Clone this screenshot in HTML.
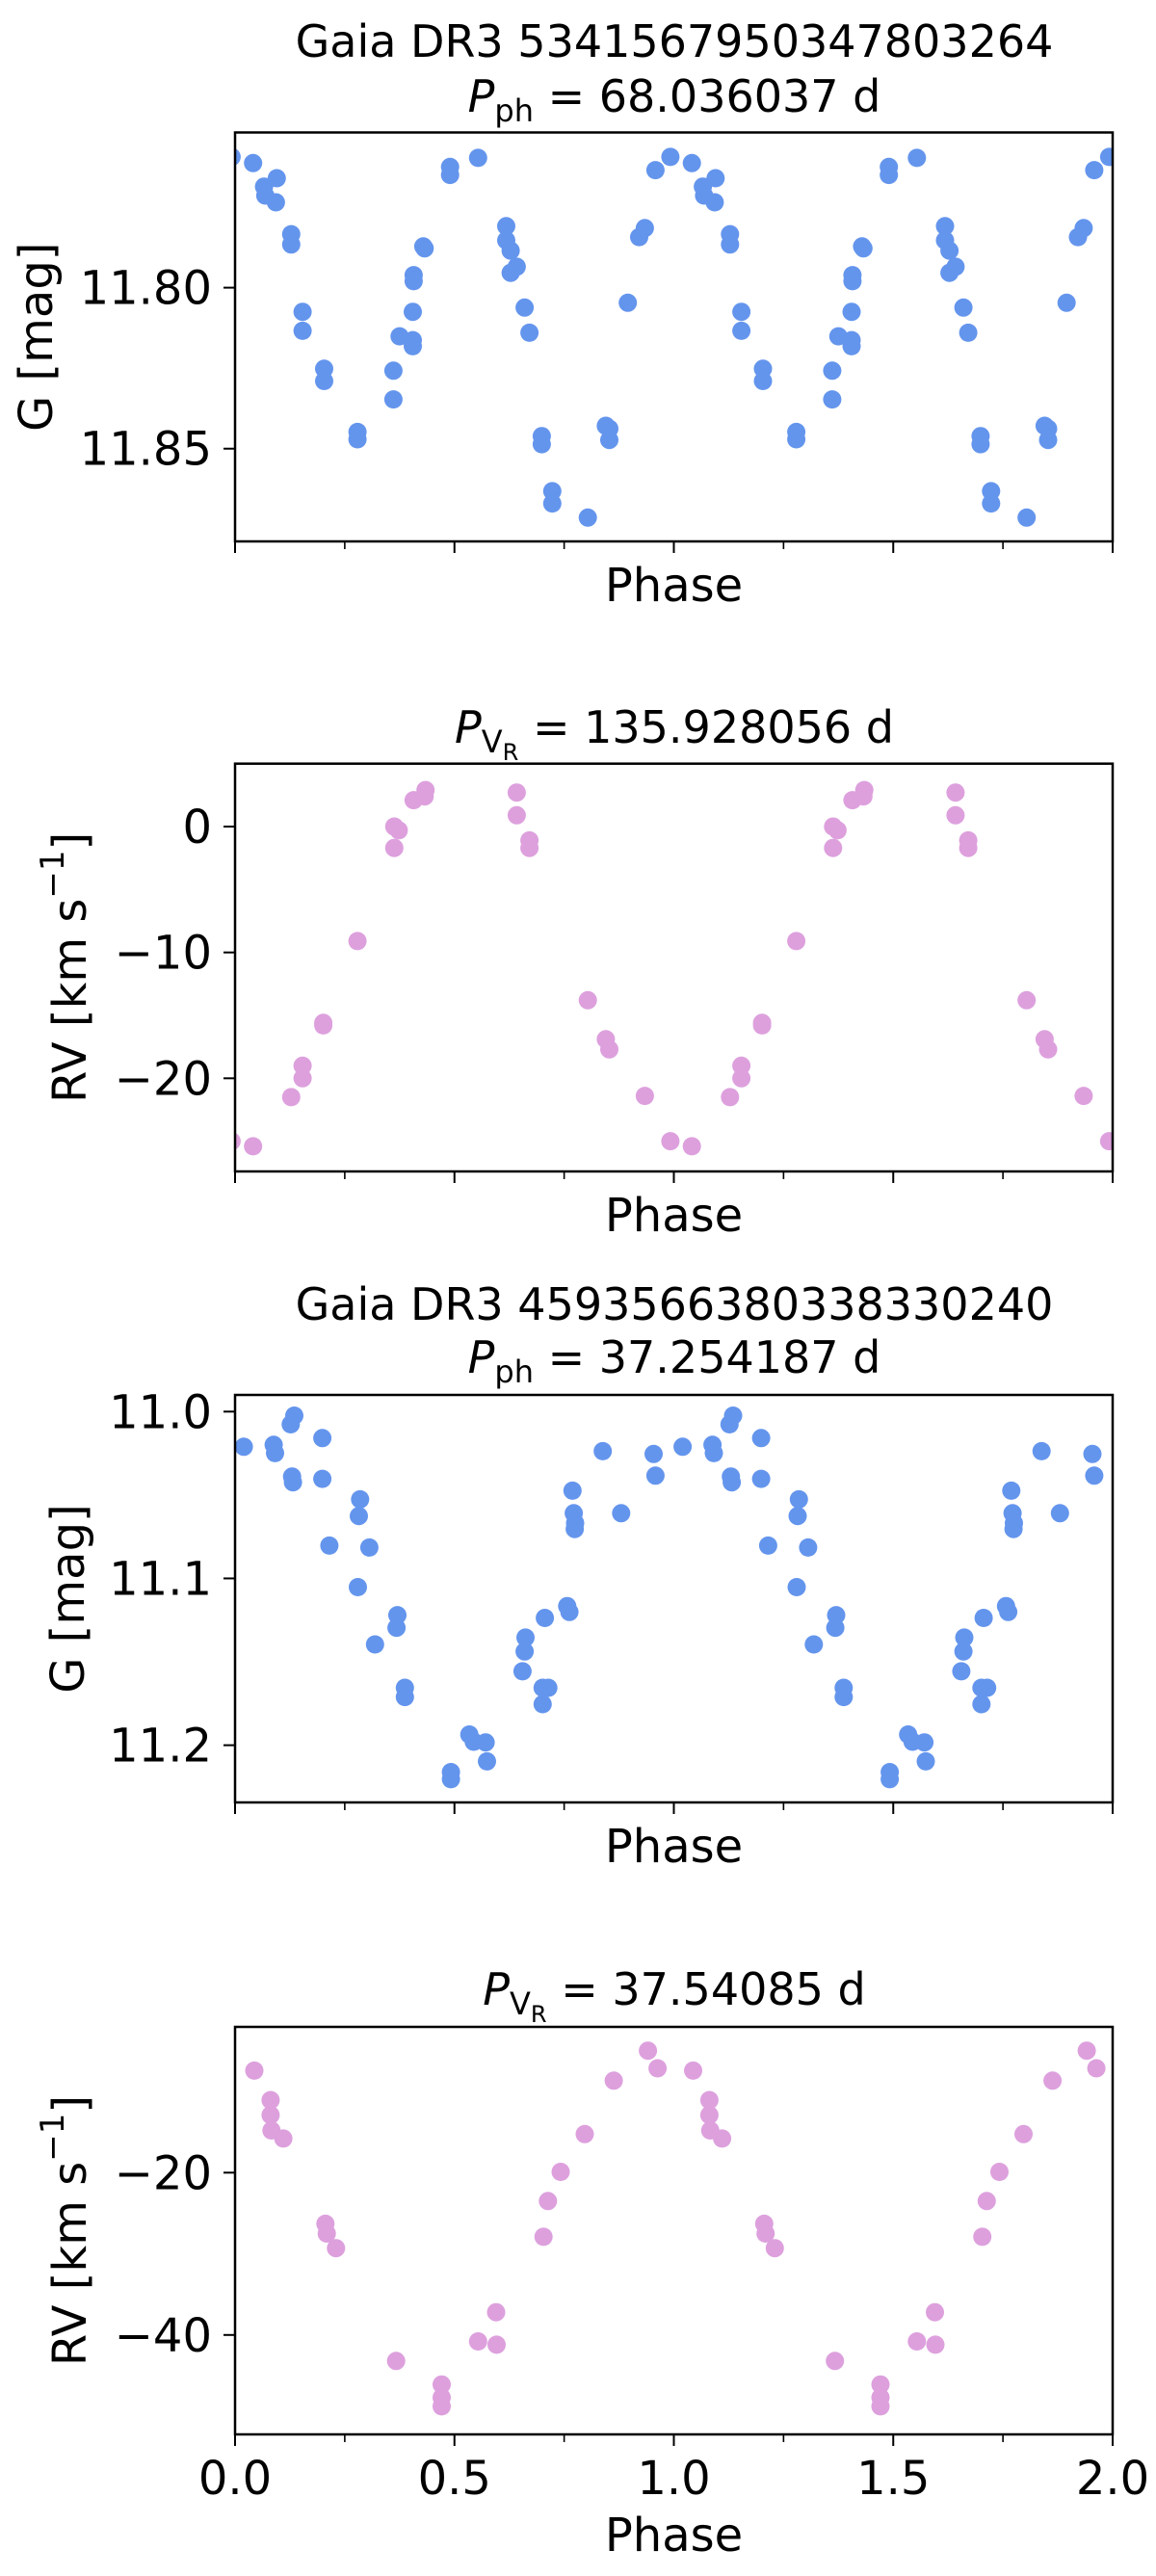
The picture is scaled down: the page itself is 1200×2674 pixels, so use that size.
<!DOCTYPE html>
<html><head><meta charset="utf-8"><style>
html,body{margin:0;padding:0;background:#fff;}
svg{display:block;font-family:"DejaVu Sans","Liberation Sans",sans-serif;}
</style></head><body>
<svg id="fig" width="1200" height="2674" viewBox="0 0 1200 2674" xmlns="http://www.w3.org/2000/svg">
<text x="700" y="59" font-size="46" text-anchor="middle">Gaia DR3 5341567950347803264</text>
<text x="700" y="116" font-size="46" text-anchor="middle"><tspan font-style="italic">P</tspan><tspan font-size="32" dy="10">ph</tspan><tspan dy="-10"> = 68.036037 d</tspan></text>
<text x="700" y="771" font-size="46" text-anchor="middle"><tspan font-style="italic">P</tspan><tspan font-size="32" dy="10">V</tspan><tspan font-size="24" dy="8">R</tspan><tspan dy="-18"> = 135.928056 d</tspan></text>
<text x="700" y="1370" font-size="46" text-anchor="middle">Gaia DR3 4593566380338330240</text>
<text x="700" y="1425" font-size="46" text-anchor="middle"><tspan font-style="italic">P</tspan><tspan font-size="32" dy="10">ph</tspan><tspan dy="-10"> = 37.254187 d</tspan></text>
<text x="700" y="2081" font-size="46" text-anchor="middle"><tspan font-style="italic">P</tspan><tspan font-size="32" dy="10">V</tspan><tspan font-size="24" dy="8">R</tspan><tspan dy="-18"> = 37.54085 d</tspan></text>
</svg>
<script>
// Panel 1: photometry star 1
const p1Phase=[0.041,0.066,0.069,0.095,0.093,0.128,0.128,0.154,0.154,0.203,0.203,0.279,0.279,0.361,0.361,0.375,0.405,0.405,0.405,0.407,0.407,0.429,0.432,0.490,0.490,0.554,0.618,0.618,0.628,0.628,0.642,0.660,0.671,0.699,0.699,0.723,0.723,0.804,0.845,0.853,0.853,0.895,0.921,0.934,0.958,0.992];
const p1Mag=[11.7613,11.7686,11.7714,11.766,11.7735,11.7834,11.7866,11.8075,11.8134,11.8252,11.829,11.8448,11.8471,11.8258,11.8347,11.8151,11.8163,11.8182,11.8075,11.798,11.7961,11.7872,11.7878,11.7625,11.765,11.7597,11.7809,11.7853,11.7885,11.7954,11.7935,11.8062,11.814,11.8461,11.8486,11.8632,11.867,11.8714,11.8429,11.8438,11.8473,11.8047,11.7843,11.7815,11.7635,11.7594];
const p1Ticks=[11.80,11.85];
const p1TickLabels=["11.80","11.85"];
// Panel 2: RV star 1
const p2Phase=[0.041,0.128,0.154,0.154,0.201,0.201,0.279,0.363,0.373,0.363,0.407,0.432,0.434,0.642,0.642,0.671,0.671,0.804,0.845,0.853,0.934,0.992];
const p2RV=[-25.4,-21.5,-19.0,-20.0,-15.6,-15.8,-9.1,0.0,-0.3,-1.7,2.1,2.4,2.9,2.7,0.9,-1.1,-1.7,-13.8,-16.9,-17.7,-21.4,-25.0];
const p2Ticks=[0,-10,-20];
const p2TickLabels=["0","\u221210","\u221220"];
// Panel 3: photometry star 2
const p3Phase=[0.020,0.088,0.091,0.127,0.135,0.130,0.132,0.199,0.199,0.215,0.285,0.282,0.306,0.280,0.370,0.368,0.319,0.387,0.387,0.492,0.492,0.534,0.544,0.571,0.574,0.655,0.660,0.662,0.701,0.714,0.701,0.706,0.757,0.762,0.769,0.772,0.775,0.774,0.838,0.880,0.954,0.958];
const p3Mag=[11.0211,11.0199,11.0249,11.0076,11.0024,11.0389,11.0424,11.0159,11.0403,11.0803,11.0526,11.0626,11.0815,11.1052,11.122,11.1296,11.1396,11.1656,11.1711,11.2161,11.2204,11.1936,11.1979,11.1983,11.2097,11.1557,11.1438,11.1355,11.1656,11.1656,11.1754,11.1237,11.1166,11.1201,11.0474,11.0609,11.0668,11.0704,11.0237,11.0609,11.0254,11.0384];
const p3Ticks=[11.0,11.1,11.2];
const p3TickLabels=["11.0","11.1","11.2"];
// Panel 4: RV star 2
const p4Phase=[0.044,0.081,0.081,0.083,0.110,0.206,0.209,0.230,0.367,0.471,0.471,0.471,0.554,0.595,0.596,0.703,0.713,0.742,0.797,0.863,0.941,0.963];
const p4RV=[-7.43,-11.06,-12.9,-14.8,-15.8,-26.3,-27.5,-29.3,-43.2,-46.1,-47.7,-48.8,-40.8,-37.2,-41.2,-27.9,-23.5,-19.9,-15.25,-8.66,-4.97,-7.15];
const p4Ticks=[-20,-40];
const p4TickLabels=["\u221220","\u221240"];
const xTicks=[0,0.5,1,1.5,2];
const xTickLabels=["0.0","0.5","1.0","1.5","2.0"];
const xMinor=[0.25,0.75,1.25,1.75];

const NS="http://www.w3.org/2000/svg";
const svg=document.getElementById('fig');
function mk(tag,attrs,parent){const e=document.createElementNS(NS,tag);for(const k in attrs)e.setAttribute(k,attrs[k]);(parent||svg).appendChild(e);return e;}
const L=244,R=1155;
function xs(p){return L+(p/2)*(R-L);}

function panel(id,top,bot,y0,y1,phases,vals,ticks,labels,color,ylab,labX,showX){
  const ys=v=>top+(v-y0)/(y1-y0)*(bot-top);
  const g=mk('g',{});
  
  
  const cp=mk('clipPath',{id:id+'-clip'},g);
  mk('rect',{x:L,y:top,width:R-L,height:bot-top},cp);
  const pts=mk('g',{'clip-path':'url(#'+id+'-clip)'},g);
  
  
  for(let i=0;i<phases.length;i++){
    for(const off of [-1,0,1]){
      const p=phases[i]+off;
      if(p<-0.05||p>2.05)continue;
      const c=mk('ellipse',{cx:xs(p).toFixed(1),cy:ys(vals[i]).toFixed(1),rx:9.5,ry:9.5,fill:color},pts);
      
      
    }
  }
  const fr=mk('rect',{x:L,y:top,width:R-L,height:bot-top,fill:'none',stroke:'#000','stroke-width':2.5},g);
  
  
  for(let i=0;i<ticks.length;i++){
    const y=ys(ticks[i]);
    mk('line',{x1:L-12,x2:L,y1:y,y2:y,stroke:'#000','stroke-width':2},g);
    const t=mk('text',{x:L-24,y:y+17,'font-size':48,'text-anchor':'end'},g);
    
    
    t.textContent=labels[i];
  }
  for(const v of xTicks){const x=xs(v);mk('line',{x1:x,x2:x,y1:bot,y2:bot+12,stroke:'#000','stroke-width':2},g);}
  for(const v of xMinor){const x=xs(v);mk('line',{x1:x,x2:x,y1:bot,y2:bot+8,stroke:'#000','stroke-width':1.6},g);}
  if(showX){
    for(let i=0;i<xTicks.length;i++){
      const t=mk('text',{x:xs(xTicks[i]),y:bot+62,'font-size':48,'text-anchor':'middle'},g);
      
      
      t.textContent=xTickLabels[i];
    }
  }
  const xl=mk('text',{x:(L+R)/2,y:bot+(showX?121:62),'font-size':48,'text-anchor':'middle'},g);
  
  
  xl.textContent='Phase';
  const cy=(top+bot)/2;
  const yl=mk('text',{x:labX,y:cy,'font-size':48,'text-anchor':'middle','dominant-baseline':'central',transform:'rotate(-90 '+labX+' '+cy+')'},g);
  
  
  if(ylab==='G'){yl.textContent='G [mag]';}
  else{
    const a=mk('tspan',{},yl);a.textContent='RV [km s';
    const b=mk('tspan',{'font-size':34,dy:-18},yl);b.textContent='\u22121';
    const c=mk('tspan',{dy:18},yl);c.textContent=']';
  }
}
panel('photometry-1',137.5,562,11.7518,11.8788,p1Phase,p1Mag,p1Ticks,p1TickLabels,'#6495ED','G',38,false);
panel('rv-1',792.7,1216,5.0,-27.4,p2Phase,p2RV,p2Ticks,p2TickLabels,'#DDA0DD','RV',73,false);
panel('photometry-2',1448,1871,10.990,11.2343,p3Phase,p3Mag,p3Ticks,p3TickLabels,'#6495ED','G',71,false);
panel('rv-2',2104,2527,-2.04,-52.25,p4Phase,p4RV,p4Ticks,p4TickLabels,'#DDA0DD','RV',73,true);
</script>
</body></html>
